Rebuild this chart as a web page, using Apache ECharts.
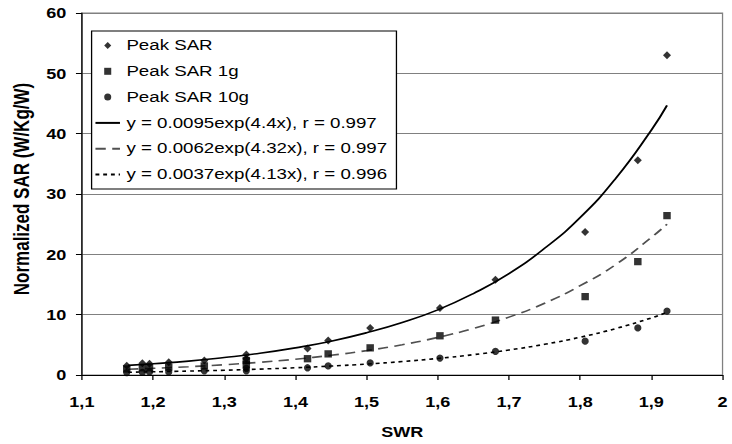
<!DOCTYPE html>
<html>
<head>
<meta charset="utf-8">
<script src="https://cdn.jsdelivr.net/npm/echarts@6/dist/echarts.min.js"></script>
<style>
    html, body { margin: 0; padding: 0; background: #fff; overflow: hidden; }
    /* the original picture is stretched sideways, so the chart is drawn narrower and widened */
    #chart { width: 567px; height: 444px; transform: scaleX(1.29); transform-origin: 0 0; }
</style>
</head>
<body>
<div id="chart"></div>
<script>
// measured points (SWR on x)
var swr        = [1.163, 1.185, 1.195, 1.222, 1.272, 1.331, 1.331, 1.417, 1.446, 1.505, 1.603, 1.681, 1.807, 1.881, 1.922];
var peakSar    = [1.55, 1.95, 1.85, 2.1, 2.4, 3.4, 2.7, 4.4, 5.7, 7.8, 11.1, 15.8, 23.7, 35.6, 53.0];
var peakSar1g  = [1.0, 1.2, 1.2, 1.3, 1.5, 2.4, 1.7, 2.7, 3.5, 4.5, 6.5, 9.1, 13.0, 18.8, 26.4];
var peakSar10g = [0.4, 0.45, 0.5, 0.5, 0.7, 1.1, 0.7, 1.2, 1.5, 2.0, 2.8, 3.9, 5.6, 7.8, 10.6];

// fitted curves
var fitX     = [1.165, 1.2, 1.25, 1.3, 1.35, 1.4, 1.45, 1.5, 1.55, 1.6, 1.65, 1.7, 1.75, 1.8, 1.85, 1.9, 1.922];
var fitPeak  = [1.6, 1.87, 2.3, 2.9, 3.6, 4.5, 5.6, 7.0, 8.7, 10.8, 13.5, 16.8, 21.0, 26.1, 32.6, 40.6, 44.7];
var fit1g    = [0.95, 1.11, 1.37, 1.7, 2.11, 2.62, 3.26, 4.04, 5.02, 6.23, 7.73, 9.59, 11.9, 14.8, 18.3, 22.8, 25.0];
var fit10g   = [0.45, 0.53, 0.65, 0.79, 0.98, 1.2, 1.48, 1.81, 2.23, 2.74, 3.37, 4.14, 5.09, 6.26, 7.7, 9.46, 10.4];

var seriesNames = ['Peak SAR', 'Peak SAR 1g', 'Peak SAR 10g',
    'y = 0.0095exp(4.4x), r = 0.997',
    'y = 0.0062exp(4.32x), r = 0.997',
    'y = 0.0037exp(4.13x), r = 0.996'];

var xTickLabels = ['1,1', '1,2', '1,3', '1,4', '1,5', '1,6', '1,7', '1,8', '1,9', '2'];

function pairs(xs, ys) {
    return xs.map(function (x, i) { return [x, ys[i]]; });
}

// legend marks drawn narrow so they come out square after the stretch
var iconDiamond = 'path://M0.39,0L0.78,0.5L0.39,1L0,0.5Z';
var iconSquare  = 'path://M0,0L0.78,0L0.78,1L0,1Z';
var iconCircle  = 'path://M0,0.5A0.39,0.5,0,1,1,0.78,0.5A0.39,0.5,0,1,1,0,0.5Z';

var font = '"Liberation Sans", Arial, sans-serif';
var chart = echarts.init(document.getElementById('chart'), null, { renderer: 'svg' });

var option = {
    animation: false,
    backgroundColor: '#fff',
    grid: {
        left: 55, right: 3, top: 13, bottom: 66,
        show: true, borderColor: '#808080', borderWidth: 1
    },
    legend: {
        left: 71, top: 31,
        orient: 'vertical',
        padding: [7, 7, 7, 2],
        itemWidth: 19, itemHeight: 7, itemGap: 10.8,
        symbolKeepAspect: true,
        borderColor: '#000', borderWidth: 1,
        backgroundColor: '#fff',
        textStyle: { fontFamily: font, fontSize: 14.5, color: '#000' },
        data: [
            { name: seriesNames[0], icon: iconDiamond },
            { name: seriesNames[1], icon: iconSquare },
            { name: seriesNames[2], icon: iconCircle },
            { name: seriesNames[3], itemStyle: { opacity: 0 } },
            { name: seriesNames[4], itemStyle: { opacity: 0 } },
            { name: seriesNames[5], itemStyle: { opacity: 0 } }
        ]
    },
    xAxis: {
        type: 'value',
        min: 1.1, max: 2, interval: 0.1,
        name: 'SWR', nameLocation: 'middle', nameGap: 50,
        nameTextStyle: { fontFamily: font, fontSize: 14, fontWeight: 'bold', color: '#000' },
        axisLine: { lineStyle: { color: '#000', width: 1 } },
        axisTick: { length: 5, lineStyle: { color: '#000' } },
        axisLabel: {
            margin: 20, fontFamily: font, fontSize: 14, fontWeight: 'bold', color: '#000',
            formatter: function (v, i) { return xTickLabels[i]; }
        },
        splitLine: { show: false }
    },
    yAxis: {
        type: 'value',
        min: 0, max: 60, interval: 10,
        name: 'Normalized SAR (W/Kg/W)', nameLocation: 'middle', nameGap: 31,
        nameTextStyle: { fontFamily: font, fontSize: 17, fontWeight: 'bold', color: '#000', padding: [0, 0, 0, 10] },
        axisLine: { show: true, lineStyle: { color: '#000', width: 1 } },
        axisTick: { show: true, length: 4.6, lineStyle: { color: '#000' } },
        axisLabel: { margin: 12, fontFamily: font, fontSize: 14, fontWeight: 'bold', color: '#000' },
        splitLine: { lineStyle: { color: '#808080', width: 1 } }
    },
    series: [
        {
            name: seriesNames[0], type: 'scatter', symbol: 'diamond', symbolSize: [6.2, 8],
            itemStyle: { color: '#000' }, z: 5,
            data: pairs(swr, peakSar)
        },
        {
            name: seriesNames[1], type: 'scatter', symbol: 'rect', symbolSize: [5.8, 7.3],
            itemStyle: { color: '#000' }, z: 5,
            data: pairs(swr, peakSar1g)
        },
        {
            name: seriesNames[2], type: 'scatter', symbol: 'circle', symbolSize: [5.6, 7.2],
            itemStyle: { color: '#000' }, z: 5,
            data: pairs(swr, peakSar10g)
        },
        {
            name: seriesNames[3], type: 'line', smooth: true, symbol: 'none',
            lineStyle: { color: '#000', width: 1.6, type: 'solid' },
            itemStyle: { color: '#000' },
            data: pairs(fitX, fitPeak)
        },
        {
            name: seriesNames[4], type: 'line', smooth: true, symbol: 'none',
            lineStyle: { color: '#505050', width: 1.6, type: [8, 5] },
            itemStyle: { color: '#505050' },
            data: pairs(fitX, fit1g)
        },
        {
            name: seriesNames[5], type: 'line', smooth: true, symbol: 'none',
            lineStyle: { color: '#000', width: 1.6, type: [3, 3] },
            itemStyle: { color: '#000' },
            data: pairs(fitX, fit10g)
        }
    ]
};

chart.setOption(option);
</script>
</body>
</html>
